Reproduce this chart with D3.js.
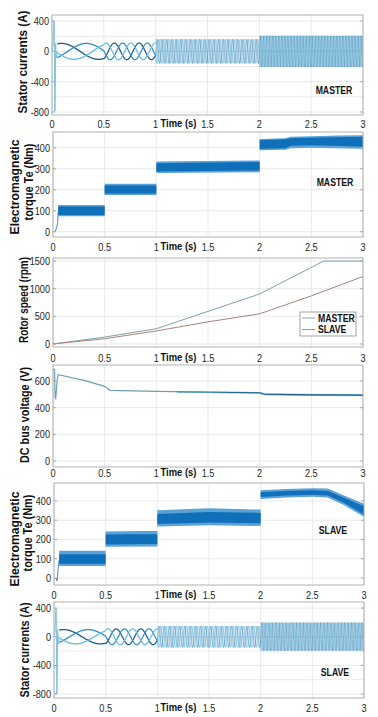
<!DOCTYPE html>
<html>
<head>
<meta charset="utf-8">
<script src="https://cdn.jsdelivr.net/npm/d3@7"></script>
<style>
  body { margin: 0; background: #fff; }
  svg { display: block; font-family: "Liberation Sans", Arial, sans-serif; }
</style>
</head>
<body>
<svg id="chart" width="378" height="717"></svg>
<script>
// ---- data ----
var timeTicks = [0, 0.5, 1, 1.5, 2, 2.5, 3];

// stator currents: segments with amplitude (A) and electrical frequency (Hz)
var currSegStart = [0.05, 0.5, 1, 2];
var currSegEnd   = [0.5, 1, 2, 3];
var currAmpM     = [105, 110, 160, 205];
var currFreqM    = [1.4, 4.2, 22, 34];
var currAmpS     = [100, 110, 150, 195];
var currFreqS    = [1.4, 4.2, 20, 30];
// start-up transient
var currStartT   = [0, 0.01, 0.018, 0.022, 0.026, 0.03, 0.035, 0.042, 0.05];
var currStartM   = [0, 60, 400, 380, -790, -780, 110, -90, 0];
var currStartS   = [0, 60, 400, 380, -800, -790, 100, -100, 0];

// electromagnetic torque (Nm): noisy band, inner core and outer fringe
var tqMT     = [0.05, 0.5, 0.5, 1, 1, 2, 2, 2.25, 2.3, 2.5, 2.75, 3];
var tqMLo    = [80, 80, 182, 182, 287, 292, 395, 398, 410, 412, 410, 405];
var tqMHi    = [120, 120, 220, 220, 326, 332, 436, 440, 445, 448, 450, 452];
var tqMLoOut = [74, 74, 175, 175, 280, 283, 388, 390, 398, 400, 398, 395];
var tqMHiOut = [127, 127, 228, 228, 335, 340, 442, 445, 452, 455, 458, 460];
var tqMStartT = [0.02, 0.035, 0.045, 0.05];
var tqMStartV = [0, 20, 40, 95];

var tqST     = [0.05, 0.5, 0.5, 1, 1, 1.5, 2, 2, 2.25, 2.5, 2.65, 2.8, 3];
var tqSLo    = [74, 74, 174, 176, 280, 288, 284, 420, 428, 432, 428, 392, 330];
var tqSHi    = [124, 124, 226, 228, 332, 342, 338, 445, 452, 456, 452, 418, 372];
var tqSLoOut = [62, 62, 162, 164, 268, 274, 270, 410, 418, 422, 418, 380, 318];
var tqSHiOut = [142, 142, 242, 245, 352, 362, 355, 455, 462, 466, 464, 430, 385];
var tqSStartT = [0.02, 0.03, 0.04, 0.05];
var tqSStartV = [0, -15, 50, 95];

// rotor speed (rpm)
var speedMT = [0, 0.5, 1, 1.5, 2, 2.62, 3];
var speedM  = [0, 125, 275, 590, 905, 1500, 1500];
var speedST = [0, 0.5, 1, 1.5, 2, 2.5, 3];
var speedS  = [0, 95, 235, 400, 545, 870, 1220];

// DC bus voltage (V)
var dcT = [0, 0.015, 0.02, 0.026, 0.04, 0.05, 0.3, 0.5, 0.55, 1, 1.5, 2, 2.05, 2.5, 3];
var dcV = [690, 685, 480, 470, 600, 648, 605, 560, 530, 522, 517, 512, 502, 497, 495];
var dcRipT  = [1.2, 1.5, 2, 2.05, 2.5, 3];
var dcRipLo = [516, 513, 508, 496, 492, 490];
var dcRipHi = [521, 519, 515, 505, 501, 499];

// ---- layout ----
var svg = d3.select("#chart");
var tickFont = 10.5, squeeze = 0.87;

var panels = [
  { top: 15, bottom: 115, left: 52, right: 363, ydom: [-840, 480], yticks: [-800, -400, 0, 400],
    grid: [-800, -600, -400, -200, 0, 200, 400],
    label: ["Stator currents (A)"], labX: [27], labY: [62], labLen: [103],
    tag: "MASTER", tagX: 334, tagY: 94, xlabY: 128, draw: "currM" },
  { top: 132, bottom: 237, left: 53, right: 363, ydom: [-25, 475], yticks: [0, 100, 200, 300, 400],
    grid: [0, 100, 200, 300, 400],
    label: ["Electromagnetic", "torque Te (Nm)"], labX: [19, 32.5], labY: [187, 182], labLen: [95, 77],
    tag: "MASTER", tagX: 335, tagY: 186, xlabY: 251, draw: "tqM" },
  { top: 258, bottom: 347, left: 53, right: 363, ydom: [-55, 1555], yticks: [0, 500, 1000, 1500],
    grid: [0, 500, 1000, 1500],
    label: ["Rotor speed (rpm)"], labX: [28], labY: [300], labLen: [86],
    xlabY: 362, draw: "speed" },
  { top: 365, bottom: 467, left: 53, right: 363, ydom: [-45, 720], yticks: [0, 200, 400, 600],
    grid: [0, 200, 400, 600],
    label: ["DC bus voltage (V)"], labX: [29], labY: [415], labLen: [96],
    xlabY: 477, draw: "dc" },
  { top: 483, bottom: 585, left: 54, right: 364, ydom: [-36, 493], yticks: [0, 100, 200, 300, 400],
    grid: [0, 100, 200, 300, 400],
    label: ["Electromagnetic", "torque Te (Nm)"], labX: [19, 31.5], labY: [539, 533], labLen: [95, 77],
    tag: "SLAVE", tagX: 333, tagY: 534, xlabY: 599, draw: "tqS" },
  { top: 602, bottom: 698, left: 54, right: 364, ydom: [-855, 485], yticks: [-800, -400, 0, 400],
    grid: [-800, -600, -400, -200, 0, 200, 400],
    label: ["Stator currents (A)"], labX: [29], labY: [650], labLen: [95],
    tag: "SLAVE", tagX: 335, tagY: 676, xlabY: 712, draw: "currS" }
];

var phaseColors = ["#1c5a8c", "#2f8fc6", "#62bde0"];
var segWidth = [1.3, 1.2, 0.5, 0.45];

// narrow the horizontal texts like the squeezed figure
function narrow(sel) {
  sel.each(function () {
    var w = this.getComputedTextLength();
    d3.select(this).attr("textLength", w * squeeze).attr("lengthAdjust", "spacingAndGlyphs");
  });
  return sel;
}

function drawCurrents(g, x, y, amps, freqs, startV) {
  var line = d3.line().x(function (d) { return x(d[0]); }).y(function (d) { return y(d[1]); });
  g.append("path")
    .datum(d3.zip(currStartT, startV))
    .attr("fill", "none").attr("stroke", "#7cc4e0").attr("stroke-width", 1)
    .attr("d", line);
  for (var p = 0; p < 3; p++) {
    var phase = 0, dt = 0.0002;
    for (var s = 0; s < currSegStart.length; s++) {
      var pts = [];
      for (var t = currSegStart[s]; t <= currSegEnd[s] + 1e-9; t += dt) {
        pts.push([t, amps[s] * Math.sin(phase - p * 2 * Math.PI / 3 + 1.2)]);
        phase += 2 * Math.PI * freqs[s] * dt;
      }
      g.append("path")
        .datum(pts)
        .attr("fill", "none").attr("stroke", phaseColors[p]).attr("stroke-width", segWidth[s])
        .attr("d", line);
    }
  }
}

function drawBand(g, x, y, t, lo, hi, color) {
  g.append("path")
    .datum(d3.range(t.length))
    .attr("fill", color).attr("stroke", "none")
    .attr("d", d3.area()
      .x(function (i) { return x(t[i]); })
      .y0(function (i) { return y(lo[i]); })
      .y1(function (i) { return y(hi[i]); }));
}

function drawLine(g, x, y, t, v, color, w) {
  g.append("path")
    .datum(d3.range(t.length))
    .attr("fill", "none").attr("stroke", color).attr("stroke-width", w)
    .attr("d", d3.line().x(function (i) { return x(t[i]); }).y(function (i) { return y(v[i]); }));
}

panels.forEach(function (pn, k) {
  var x = d3.scaleLinear().domain([0, 3]).range([pn.left, pn.right]);
  var y = d3.scaleLinear().domain(pn.ydom).range([pn.bottom, pn.top]);
  var g = svg.append("g");

  // grid
  g.selectAll(".gx").data(timeTicks).enter().append("line")
    .attr("x1", function (d) { return x(d); }).attr("x2", function (d) { return x(d); })
    .attr("y1", pn.top).attr("y2", pn.bottom)
    .attr("stroke", "#e3e3e3").attr("stroke-width", 0.8);
  g.selectAll(".gy").data(pn.grid).enter().append("line")
    .attr("x1", pn.left).attr("x2", pn.right)
    .attr("y1", function (d) { return y(d); }).attr("y2", function (d) { return y(d); })
    .attr("stroke", "#e3e3e3").attr("stroke-width", 0.8);

  var clipId = "clip" + k;
  svg.append("clipPath").attr("id", clipId).append("rect")
    .attr("x", pn.left).attr("y", pn.top)
    .attr("width", pn.right - pn.left).attr("height", pn.bottom - pn.top);
  var dg = g.append("g").attr("clip-path", "url(#" + clipId + ")");

  if (pn.draw === "currM") drawCurrents(dg, x, y, currAmpM, currFreqM, currStartM);
  if (pn.draw === "currS") drawCurrents(dg, x, y, currAmpS, currFreqS, currStartS);
  if (pn.draw === "tqM") {
    drawLine(dg, x, y, tqMStartT, tqMStartV, "#3d8ccc", 1);
    drawBand(dg, x, y, tqMT, tqMLoOut, tqMHiOut, "#5aa2d8");
    drawBand(dg, x, y, tqMT, tqMLo, tqMHi, "#106fb9");
  }
  if (pn.draw === "tqS") {
    drawLine(dg, x, y, tqSStartT, tqSStartV, "#3d8ccc", 1);
    drawBand(dg, x, y, tqST, tqSLoOut, tqSHiOut, "#5aa2d8");
    drawBand(dg, x, y, tqST, tqSLo, tqSHi, "#106fb9");
  }
  if (pn.draw === "speed") {
    drawLine(dg, x, y, speedMT, speedM, "#7f9eae", 1);
    drawLine(dg, x, y, speedST, speedS, "#a98478", 1);
    // legend
    var lg = g.append("g");
    lg.append("rect").attr("x", 300).attr("y", 312).attr("width", 56).attr("height", 24)
      .attr("fill", "#fff").attr("stroke", "#8a8a8a").attr("stroke-width", 0.8);
    [["MASTER", "#8fa3ad"], ["SLAVE", "#a3958f"]].forEach(function (e, i) {
      var ly = 318 + i * 11.5;
      lg.append("line").attr("x1", 302).attr("x2", 315).attr("y1", ly).attr("y2", ly)
        .attr("stroke", e[1]).attr("stroke-width", 1);
      narrow(lg.append("text").attr("x", 318).attr("y", ly + 3.5).text(e[0])
        .attr("font-size", 10).attr("font-weight", "bold").attr("fill", "#111"));
    });
  }
  if (pn.draw === "dc") {
    drawLine(dg, x, y, dcT, dcV, "#6f9fb0", 1.2);
    drawBand(dg, x, y, dcRipT, dcRipLo.map(function (v) { return v - 5; }), dcRipHi.map(function (v) { return v + 3; }), "#8fd4ec");
    drawBand(dg, x, y, dcRipT, dcRipLo, dcRipHi, "#1f5a84");
  }

  // box with inner ticks
  g.append("rect").attr("x", pn.left).attr("y", pn.top)
    .attr("width", pn.right - pn.left).attr("height", pn.bottom - pn.top)
    .attr("fill", "none").attr("stroke", "#a8a8a8").attr("stroke-width", 0.9);
  g.selectAll(".ty").data(pn.yticks).enter().append("line")
    .attr("x1", pn.left).attr("x2", pn.left + 3)
    .attr("y1", function (d) { return y(d); }).attr("y2", function (d) { return y(d); })
    .attr("stroke", "#a8a8a8");
  g.selectAll(".ty2").data(pn.yticks).enter().append("line")
    .attr("x1", pn.right).attr("x2", pn.right - 3)
    .attr("y1", function (d) { return y(d); }).attr("y2", function (d) { return y(d); })
    .attr("stroke", "#a8a8a8");

  // tick labels
  narrow(g.selectAll(".yl").data(pn.yticks).enter().append("text")
    .attr("x", pn.left - 3).attr("y", function (d) { return y(d) + 4; })
    .attr("text-anchor", "end").attr("font-size", tickFont).attr("fill", "#262626")
    .text(function (d) { return d; }));
  narrow(g.selectAll(".xl").data(timeTicks).enter().append("text")
    .attr("x", function (d) { return x(d); }).attr("y", pn.xlabY)
    .attr("text-anchor", "middle").attr("font-size", tickFont).attr("fill", "#262626")
    .text(function (d) { return d; }));
  g.append("text").attr("x", 178.5).attr("y", pn.xlabY - 1.5)
    .attr("text-anchor", "middle").attr("font-size", 10.5).attr("font-weight", "bold")
    .attr("fill", "#111").attr("textLength", 36).attr("lengthAdjust", "spacingAndGlyphs")
    .text("Time (s)");

  // y label(s)
  pn.label.forEach(function (s, i) {
    g.append("text")
      .attr("transform", "translate(" + pn.labX[i] + "," + pn.labY[i] + ") rotate(-90)")
      .attr("text-anchor", "middle")
      .attr("font-size", 12).attr("font-weight", "bold")
      .attr("textLength", pn.labLen[i]).attr("lengthAdjust", "spacingAndGlyphs")
      .attr("fill", "#111").text(s);
  });

  if (pn.tag) {
    narrow(g.append("text").attr("x", pn.tagX).attr("y", pn.tagY)
      .attr("text-anchor", "middle").attr("font-size", 10).attr("font-weight", "bold")
      .attr("fill", "#111").text(pn.tag));
  }
});
</script>
</body>
</html>
